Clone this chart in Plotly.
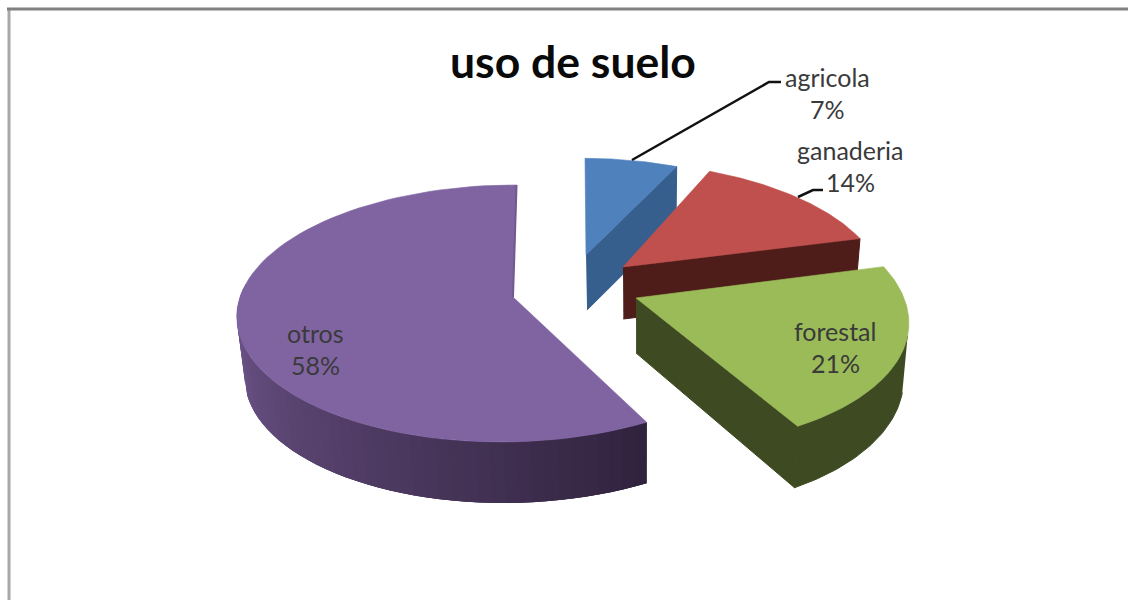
import numpy as np
import plotly.graph_objects as go

# ---- data ----
title_text = "uso de suelo"
categories = ["agricola", "ganaderia", "forestal", "otros"]
values = [7, 14, 21, 58]

# ---- styling and projection of the exploded 3-D pie (separate from the data) ----
top_colors = ["#4F81BD", "#C0504D", "#9BBB59", "#8064A2"]
wall_colors = ["#365F8E", "#4E1C19", "#3E4B22", None]
purple_wall_left = (116, 90, 146)
purple_wall_right = (49, 35, 62)
slice_geometry = [
    dict(ax=586, ay=255, cx=586, cy=255, rx=240, ry=109, p=0.128, skew=0.01, rot=0.0, depth=55, dk=0),
    dict(ax=623, ay=267, cx=623, cy=267, rx=256, ry=118, p=0.128, skew=0.116, rot=0.0, depth=52, dk=0),
    dict(ax=636, ay=298, cx=636, cy=298, rx=268, ry=130, p=0.128, skew=0.127, rot=0.0, depth=55, dk=0.05),
    dict(ax=513, ay=297, cx=509, cy=297, rx=269, ry=126.4, p=0.128, skew=-0.056, rot=0.3, depth=61, dk=0),
]
VANISH_X, VANISH_K = 640, 0.02
label_pos = [(827, 77, 109), (850, 150, 182), (835, 331, 363), (315, 333, 365)]
title_pos = (573, 60)
leaders = [
    ([632, 769, 781], [160, 82, 82]),
    ([798, 813, 823], [197, 190, 190]),
]


def project(g, theta_deg):
    t = np.radians(np.asarray(theta_deg, dtype=float) + g["rot"])
    sx, sy = np.sin(t), -np.cos(t)
    w = 1 - g["p"] * sy
    dy = g["ry"] * sy / w
    x = g["cx"] + g["rx"] * sx / w + g["skew"] * dy
    return x, g["cy"] + dy


def drop(g, x, y):
    return x + VANISH_K * (VANISH_X - x), y + g["depth"] + g["dk"] * (y - g["ay"])


def poly(fig, x, y, color, lw=0.6):
    fig.add_trace(go.Scatter(
        x=list(x), y=list(y), mode="lines", fill="toself", fillcolor=color,
        line=dict(color=color, width=lw), hoverinfo="skip", showlegend=False))


fig = go.Figure()
edges = np.cumsum([0] + values) * 3.6

for i, name in enumerate(categories):
    g = slice_geometry[i]
    th = np.linspace(edges[i], edges[i + 1], 80)
    rx, ry = project(g, th)
    ax, ay = float(g["ax"]), float(g["ay"])
    if name != "otros":
        ex, ey = rx[-1], ry[-1]
        if name == "forestal":
            # only the part of the outer wall that shows below the rim
            vis = th >= edges[i] + 30
            bx, by = drop(g, rx[vis], ry[vis])
            poly(fig, np.r_[rx[vis], bx[::-1]], np.r_[ry[vis], by[::-1]], wall_colors[i], lw=1)
        ax2, ay2 = drop(g, ax, ay)
        bx0, by0 = drop(g, ex, ey)
        poly(fig, [ax, ex, bx0, ax2], [ay, ey, by0, ay2], wall_colors[i], lw=1)
    else:
        # shaded outer wall: painted left to right, each band overlapping the next so no seams show
        wall = np.linspace(edges[i], edges[i] + 125, 50)
        wx, wy = project(g, wall)
        bx, by = drop(g, wx, wy)
        n = len(wall) - 1
        for k in range(n - 1, -1, -1):
            j = max(k - 2, 0)
            f = k / (n - 1)
            c = [round(purple_wall_right[m] + (purple_wall_left[m] - purple_wall_right[m]) * f) for m in range(3)]
            poly(fig, np.r_[wx[j:k + 2], bx[j:k + 2][::-1]], np.r_[wy[j:k + 2], by[j:k + 2][::-1]],
                 f"rgb({c[0]},{c[1]},{c[2]})", lw=0)
    poly(fig, np.r_[ax, rx, ax], np.r_[ay, ry, ay], top_colors[i])
    if name == "otros":
        fig.add_trace(go.Scatter(x=[ax, rx[-1]], y=[ay, ry[-1]], mode="lines",
                                 line=dict(color="#73588f", width=2),
                                 hoverinfo="skip", showlegend=False))

for lx, ly in leaders:
    fig.add_trace(go.Scatter(x=lx, y=ly, mode="lines", line=dict(color="#111111", width=2.5),
                             hoverinfo="skip", showlegend=False))

annotations = [dict(x=title_pos[0], y=title_pos[1], text=f"<b>{title_text}</b>", showarrow=False,
                    font=dict(family="Lato", size=44.5, color="#0a0a0a"), xanchor="center", yanchor="middle")]
for (lx, y1, y2), name, v in zip(label_pos, categories, values):
    for y, t in ((y1, name), (y2, f"{v}%")):
        annotations.append(dict(x=lx, y=y, text=t, showarrow=False, xanchor="center", yanchor="middle",
                                font=dict(family="Lato", size=25, color="#3a3a3a")))

fig.update_layout(
    width=1128, height=600, margin=dict(l=0, r=0, t=0, b=0),
    paper_bgcolor="white", plot_bgcolor="white", showlegend=False,
    xaxis=dict(range=[0, 1128], visible=False, fixedrange=True),
    yaxis=dict(range=[600, 0], visible=False, fixedrange=True),
    annotations=annotations,
    shapes=[
        dict(type="line", xref="paper", yref="paper", x0=9 / 1128, x1=9 / 1128, y0=0, y1=1 - 8 / 600,
             line=dict(color="#a8a8a8", width=3)),
        dict(type="line", xref="paper", yref="paper", x0=7 / 1128, x1=1, y0=1 - 9 / 600, y1=1 - 9 / 600,
             line=dict(color="#808080", width=3)),
    ],
)
fig.write_html("out.html", config=dict(displayModeBar=False),
               post_script="document.body.style.margin='0';")
